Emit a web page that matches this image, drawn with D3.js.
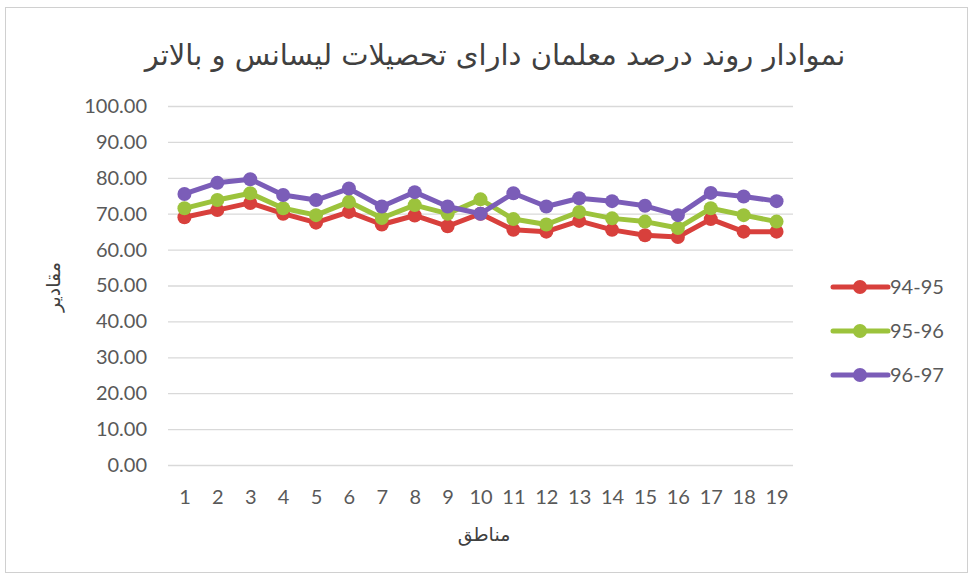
<!DOCTYPE html>
<html>
<head>
<meta charset="utf-8">
<script src="https://cdn.jsdelivr.net/npm/d3@7"></script>
<style>
  body { margin: 0; background: #fff; }
</style>
</head>
<body>
<div id="viz"></div>
<script>
const regions = ['1', '2', '3', '4', '5', '6', '7', '8', '9', '10',
  '11', '12', '13', '14', '15', '16', '17', '18', '19'];
const seriesNames = ['94-95', '95-96', '96-97'];
const s9495 = [69, 71, 73, 70, 67.5, 70.5, 67, 69.5, 66.5, 70, 65.5, 65, 68, 65.5, 64, 63.5, 68.5, 65, 65];
const s9596 = [71.5, 73.8, 75.7, 71.5, 69.6, 73.3, 68.8, 72.4, 70, 74, 68.5, 67, 70.5, 68.7, 67.8, 66, 71.5, 69.6, 67.8];
const s9697 = [75.5, 78.6, 79.6, 75.2, 73.8, 77, 72, 76, 72, 70, 75.7, 72, 74.3, 73.5, 72.2, 69.6, 75.8, 74.8, 73.5];
const yTicks = [0, 10, 20, 30, 40, 50, 60, 70, 80, 90, 100];
const colors = ['#d8403c', '#9cc33c', '#7b5db8'];

const width = 971;
const height = 580;
const plot = { left: 168, right: 793, top: 106, bottom: 465 };

const svg = d3.select('#viz')
      .append('svg')
      .attr('width', width)
      .attr('height', height);

// chart frame
svg.append('rect')
    .attr('x', 5.5)
    .attr('y', 7.5)
    .attr('width', 962)
    .attr('height', 565)
    .attr('fill', '#fff')
    .attr('stroke', '#d0d0d0');

const x = d3.scalePoint()
      .domain(regions)
      .range([plot.left, plot.right])
      .padding(0.5);

const y = d3.scaleLinear()
      .domain([0, 100])
      .range([plot.bottom, plot.top]);

// gridlines + y labels
const yAxis = svg.append('g')
      .attr('transform', `translate(${plot.left} 0)`)
      .call(d3.axisLeft(y)
        .tickValues(yTicks)
        .tickSize(-(plot.right - plot.left))
        .tickPadding(21)
        .tickFormat(d3.format('.2f')));
yAxis.select('.domain').remove();
yAxis.selectAll('line').attr('stroke', '#d9d9d9').attr('stroke-width', 1.3);
yAxis.selectAll('text')
    .attr('fill', '#595959')
    .attr('font-family', 'Lato, "Open Sans", sans-serif')
    .attr('font-size', 20);

// x labels
const xAxis = svg.append('g')
      .attr('transform', `translate(0 ${plot.bottom})`)
      .call(d3.axisBottom(x).tickSize(0).tickPadding(25));
xAxis.select('.domain').remove();
xAxis.selectAll('text')
    .attr('fill', '#595959')
    .attr('font-family', 'Lato, "Open Sans", sans-serif')
    .attr('font-size', 20);

// title
svg.append('text')
    .attr('x', 495)
    .attr('y', 65)
    .attr('text-anchor', 'middle')
    .attr('fill', '#404040')
    .attr('font-family', '"DejaVu Sans", sans-serif')
    .attr('font-size', 29)
    .text('نموادار روند درصد معلمان دارای تحصیلات لیسانس و بالاتر');

// axis titles
svg.append('text')
    .attr('x', 484)
    .attr('y', 541)
    .attr('text-anchor', 'middle')
    .attr('fill', '#404040')
    .attr('font-family', '"DejaVu Sans", sans-serif')
    .attr('font-size', 19)
    .text('مناطق');

svg.append('text')
    .attr('transform', 'translate(60 287) rotate(-90)')
    .attr('text-anchor', 'middle')
    .attr('fill', '#404040')
    .attr('font-family', '"DejaVu Sans", sans-serif')
    .attr('font-size', 19)
    .text('مقادیر');

// series
const allSeries = [s9495, s9596, s9697];
const line = d3.line()
      .x((d, i) => x(regions[i]))
      .y(d => y(d));

allSeries.forEach((vals, k) => {
  const g = svg.append('g');
  g.append('path')
      .datum(vals)
      .attr('d', line)
      .attr('fill', 'none')
      .attr('stroke', colors[k])
      .attr('stroke-width', 5)
      .attr('stroke-linejoin', 'round')
      .attr('stroke-linecap', 'round');
  g.selectAll('circle')
      .data(vals)
      .join('circle')
      .attr('cx', (d, i) => x(regions[i]))
      .attr('cy', d => y(d))
      .attr('r', 7)
      .attr('fill', colors[k]);
});

// legend
const legendY = [287, 331, 375];
const legend = svg.append('g');
seriesNames.forEach((name, k) => {
  legend.append('line')
      .attr('x1', 833)
      .attr('x2', 888)
      .attr('y1', legendY[k])
      .attr('y2', legendY[k])
      .attr('stroke', colors[k])
      .attr('stroke-width', 5)
      .attr('stroke-linecap', 'round');
  legend.append('circle')
      .attr('cx', 860)
      .attr('cy', legendY[k])
      .attr('r', 7)
      .attr('fill', colors[k]);
  legend.append('text')
      .attr('x', 890)
      .attr('y', legendY[k])
      .attr('dy', '0.35em')
      .attr('fill', '#595959')
      .attr('font-family', 'Lato, "Open Sans", sans-serif')
      .attr('font-size', 20)
      .text(name);
});
</script>
</body>
</html>
